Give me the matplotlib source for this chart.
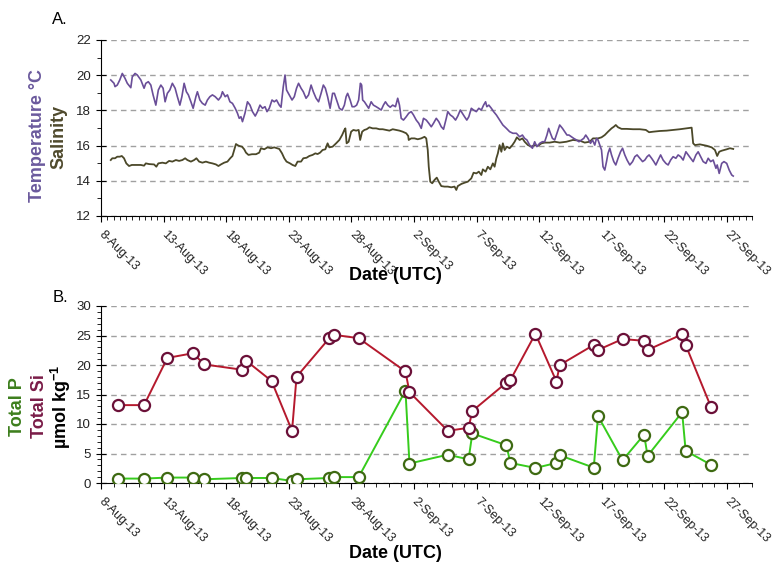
import numpy as np
import pandas as pd
import matplotlib
matplotlib.use('Agg')
import matplotlib.pyplot as plt
import matplotlib.dates as mdates
from matplotlib.ticker import MultipleLocator, FixedLocator

plt.rcParams['font.family'] = ['Liberation Sans', 'DejaVu Sans']
plt.rcParams['mathtext.fontset'] = 'custom'
plt.rcParams['mathtext.bf'] = 'Liberation Sans:bold'
plt.rcParams['mathtext.rm'] = 'Liberation Sans'

t0 = pd.Timestamp('2013-08-08')

# --- mooring record (days since 8-Aug-2013 00:00 UTC) ---
temp_day = [0.78, 1.04, 1.12, 1.3, 1.5, 1.7, 1.92, 2.1, 2.38, 2.5, 2.72, 2.9, 3.18, 3.44, 3.58,
            3.78, 3.98, 4.16, 4.38, 4.58, 4.78, 4.96, 5.12, 5.3, 5.5, 5.7, 5.92, 6.1, 6.3, 6.46,
            6.64, 6.82, 6.98, 7.18, 7.36, 7.58, 7.7, 7.9, 8.1, 8.32, 8.5, 8.7, 8.9, 9.12, 9.38,
            9.58, 9.7, 9.92, 10.1, 10.3, 10.5, 10.72, 10.9, 11.04, 11.18, 11.3, 11.5, 11.7, 11.9,
            12.1, 12.32, 12.5, 12.7, 12.9, 13.1, 13.26, 13.44, 13.66, 13.84, 14.02, 14.24, 14.38,
            14.56, 14.7, 14.82, 15.04, 15.26, 15.44, 15.62, 15.78, 15.98, 16.16, 16.38, 16.58,
            16.78, 16.96, 17.18, 17.38, 17.58, 17.76, 17.92, 18.1, 18.3, 18.5, 18.64, 18.82,
            19.04, 19.26, 19.44, 19.58, 19.7, 19.9, 20.06, 20.24, 20.42, 20.58, 20.72, 20.82,
            20.9, 21.04, 21.22, 21.38, 21.58, 21.76, 21.98, 22.18, 22.38, 22.56, 22.72, 22.9,
            23.1, 23.3, 23.52, 23.7, 23.84, 23.98, 24.16, 24.38, 24.58, 24.78, 24.96, 25.18,
            25.38, 25.58, 25.76, 25.98, 26.18, 26.38, 26.56, 26.78, 26.98, 27.18, 27.36, 27.58,
            27.7, 27.9, 28.1, 28.32, 28.5, 28.7, 28.86, 29.04, 29.22, 29.38, 29.58, 29.76, 29.98,
            30.18, 30.38, 30.56, 30.72, 30.82, 30.98, 31.18, 31.36, 31.58, 31.84, 32.1, 32.38,
            32.64, 32.9, 33.18, 33.44, 33.66, 33.84, 34.02, 34.24, 34.46, 34.64, 34.82, 35.04,
            35.26, 35.44, 35.62, 35.76, 35.9, 36.06, 36.24, 36.42, 36.64, 36.86, 37.04, 37.22,
            37.38, 37.58, 37.76, 37.98, 38.18, 38.38, 38.56, 38.72, 38.9, 39.1, 39.26, 39.44,
            39.58, 39.7, 39.84, 39.98, 40.1, 40.24, 40.38, 40.5, 40.64, 40.78, 40.96, 41.12,
            41.3, 41.5, 41.66, 41.84, 42.02, 42.24, 42.46, 42.64, 42.82, 43.04, 43.26, 43.44,
            43.62, 43.78, 43.98, 44.16, 44.32, 44.5, 44.7, 44.9, 45.12, 45.3, 45.5, 45.7, 45.92,
            46.1, 46.3, 46.5, 46.72, 46.9, 47.1, 47.3, 47.52, 47.7, 47.9, 48.1, 48.32, 48.5,
            48.7, 48.9, 49.12, 49.22, 49.38, 49.58, 49.76, 49.98, 50.18, 50.38, 50.5]
temp_c = [19.73, 19.54, 19.35, 19.44, 19.73, 20.1, 19.82, 19.54, 19.29, 19.91, 20.1, 20.01, 19.73,
          19.26, 19.54, 19.63, 19.44, 18.88, 18.3, 19.16, 19.44, 19.26, 18.49, 18.97, 19.16,
          19.54, 19.26, 18.78, 18.3, 18.78, 19.54, 19.06, 18.88, 18.49, 18.12, 18.78, 19.06,
          18.59, 18.4, 18.3, 18.59, 18.78, 18.88, 18.78, 18.59, 18.78, 19.06, 18.78, 18.88,
          18.49, 18.4, 18.12, 17.84, 17.55, 17.64, 17.36, 17.84, 18.49, 18.3, 17.93, 17.68,
          17.93, 18.3, 18.12, 18.21, 17.93, 18.12, 18.59, 18.49, 18.59, 18.3, 18.18, 19.35,
          20.01, 19.16, 18.88, 18.59, 18.78, 19.26, 19.54, 19.26, 19.06, 18.69, 18.88, 19.44,
          19.06, 18.69, 18.49, 18.97, 19.44, 19.26, 18.78, 18.12, 18.97, 18.97, 18.59, 18.12,
          18.02, 18.3, 18.78, 18.97, 18.59, 18.21, 18.21, 18.3, 18.59, 19.54, 19.44, 18.59,
          18.49, 18.3, 18.12, 18.49, 18.3, 18.21, 18.12, 18.02, 18.3, 18.49, 18.3, 18.18, 18.3,
          18.21, 18.69, 18.3, 17.55, 17.45, 17.64, 17.84, 17.93, 17.74, 17.45, 17.27, 16.98,
          17.55, 17.45, 17.27, 17.07, 17.27, 17.55, 17.36, 17.07, 16.93, 17.55, 17.93, 17.74,
          17.64, 17.45, 17.68, 18.02, 17.84, 17.64, 17.45, 17.64, 18.12, 18.02, 17.93, 18.12,
          18.02, 18.3, 18.49, 18.21, 18.3, 18.12, 17.93, 17.74, 17.45, 17.17, 16.98, 16.79,
          16.7, 16.7, 16.5, 16.6, 16.41, 16.32, 16.03, 15.85, 16.22, 15.94, 16.13, 16.22, 16.22,
          16.6, 16.98, 16.7, 16.41, 16.32, 16.7, 17.17, 16.98, 16.79, 16.6, 16.6, 16.5, 16.41,
          16.32, 16.22, 16.32, 16.41, 16.6, 16.41, 16.13, 16.32, 16.03, 16.41, 16.32, 16.03,
          15.75, 14.8, 14.61, 15.09, 15.56, 15.85, 15.47, 15.09, 14.9, 15.28, 15.65, 15.85,
          15.47, 15.18, 14.9, 15.09, 15.37, 15.47, 15.28, 15.09, 15.18, 15.37, 15.47, 15.28,
          15.09, 14.9, 15.18, 15.47, 15.18, 14.99, 14.9, 15.18, 15.37, 15.28, 15.47, 15.37,
          15.18, 15.65, 15.47, 15.28, 15.09, 15.47, 15.65, 15.37, 15.09, 14.99, 15.28, 15.09,
          15.18, 14.71, 14.9, 14.42, 14.99, 15.09, 14.99, 14.61, 14.33, 14.27]

sal_day = [0.78, 0.9, 1.12, 1.3, 1.5, 1.66, 1.84, 2.02, 2.24, 2.46, 2.78, 3.18, 3.44, 3.58, 3.84,
           4.24, 4.42, 4.58, 4.9, 5.18, 5.44, 5.7, 5.98, 6.24, 6.5, 6.72, 6.9, 7.18, 7.44, 7.62,
           7.84, 8.1, 8.38, 8.64, 8.9, 9.18, 9.38, 9.58, 9.84, 10.1, 10.32, 10.5, 10.64, 10.78,
           10.9, 11.04, 11.26, 11.44, 11.58, 11.78, 12.06, 12.38, 12.64, 12.78, 13.04, 13.3,
           13.58, 13.84, 14.24, 14.46, 14.64, 14.82, 15.1, 15.3, 15.52, 15.7, 15.98, 16.16,
           16.42, 16.64, 16.9, 17.12, 17.3, 17.5, 17.7, 17.92, 18.1, 18.24, 18.5, 18.78, 19.04,
           19.26, 19.44, 19.52, 19.62, 19.78, 19.98, 20.16, 20.38, 20.58, 20.7, 20.86, 21.04,
           21.22, 21.44, 21.7, 21.98, 22.24, 22.5, 22.78, 23.04, 23.3, 23.58, 23.84, 24.1, 24.38,
           24.54, 24.58, 24.78, 25.04, 25.3, 25.58, 25.84, 25.98, 26.1, 26.18, 26.3, 26.46,
           26.64, 26.82, 26.98, 27.18, 27.44, 27.7, 27.98, 28.24, 28.38, 28.5, 28.78, 29.04,
           29.3, 29.58, 29.76, 29.98, 30.18, 30.38, 30.5, 30.72, 30.9, 31.1, 31.3, 31.44, 31.58,
           31.7, 31.84, 31.98, 32.1, 32.24, 32.42, 32.64, 32.86, 33.04, 33.22, 33.44, 33.66,
           33.84, 34.1, 34.38, 34.64, 34.9, 35.18, 35.44, 35.84, 36.24, 36.64, 37.18, 37.7,
           38.24, 38.64, 39.04, 39.3, 39.7, 39.98, 40.24, 40.5, 40.78, 40.96, 41.12, 41.3, 41.58,
           41.98, 42.5, 43.04, 43.52, 43.78, 44.1, 44.64, 45.18, 45.7, 46.24, 46.78, 47.18, 47.3,
           47.44, 47.84, 48.38, 48.78, 49.04, 49.22, 49.38, 49.58, 49.98, 50.24, 50.5]
salinity = [15.18, 15.28, 15.28, 15.37, 15.37, 15.41, 15.28, 14.99, 14.84, 14.9, 14.9, 14.9, 14.86,
            14.99, 14.95, 14.93, 14.8, 14.99, 15.03, 14.99, 15.13, 15.09, 15.18, 15.13, 15.18,
            15.28, 15.18, 15.09, 15.18, 15.28, 15.09, 15.03, 15.09, 15.03, 14.99, 14.93, 14.84,
            14.93, 15.03, 15.09, 15.28, 15.41, 15.75, 16.09, 16.03, 15.98, 15.94, 15.79, 15.6,
            15.47, 15.51, 15.51, 15.6, 15.85, 15.79, 15.9, 15.85, 15.9, 15.81, 15.56, 15.28,
            15.09, 14.99, 14.9, 14.84, 15.09, 15.09, 15.28, 15.31, 15.41, 15.47, 15.56, 15.52,
            15.6, 15.75, 15.79, 16.13, 15.9, 15.94, 16.13, 16.32, 16.6, 16.89, 16.98, 16.13,
            16.22, 16.79, 16.89, 16.85, 16.89, 16.32, 16.79, 16.89, 16.93, 17.04, 16.98, 16.98,
            16.93, 16.93, 16.89, 16.85, 16.93, 16.89, 16.85, 16.79, 16.7, 16.55, 16.32, 16.41,
            16.41, 16.36, 16.41, 16.5, 16.41, 15.75, 14.8, 13.95, 13.86, 14.05, 14.18, 13.95,
            13.7, 13.67, 13.67, 13.63, 13.67, 13.48, 13.7, 13.82, 13.89, 13.95, 14.14, 14.46,
            14.42, 14.52, 14.33, 14.65, 14.52, 14.8, 14.65, 14.99, 14.8, 15.28, 15.56, 16.03,
            15.65, 16.13, 15.75, 15.94, 15.85, 16.03, 16.22, 16.47, 16.32, 16.41, 16.22, 16.03,
            15.94, 16.03, 15.98, 16.13, 16.17, 16.17, 16.22, 16.17, 16.22, 16.32, 16.28, 16.17,
            16.22, 16.41, 16.41, 16.47, 16.6, 16.79, 16.98, 17.07, 17.17, 17.04, 16.95, 16.95,
            16.93, 16.93, 16.89, 16.76, 16.79, 16.83, 16.85, 16.89, 16.93, 16.98, 17.02, 16.13,
            16.03, 16.07, 15.99, 15.9, 15.75, 15.41, 15.65, 15.71, 15.79, 15.85, 15.81]

# --- bottle samples ---
samp_day = [1.39, 3.44, 5.3, 7.36, 8.24, 11.26, 11.58, 13.62, 15.26, 15.62, 18.24, 18.64, 20.58,
            24.32, 24.64, 27.7, 29.36, 29.66, 32.38, 32.7, 34.7, 36.38, 36.64, 39.36, 39.7,
            41.66, 43.38, 43.66, 46.42, 46.7, 48.72]
total_si = [13.2, 13.2, 21.2, 22.0, 20.1, 19.2, 20.75, 17.3, 8.85, 18.0, 24.55, 25.1, 24.55, 18.9,
            15.4, 8.85, 9.35, 12.2, 17.0, 17.45, 25.3, 17.2, 20.0, 23.4, 22.55, 24.4, 24.1,
            22.55, 25.2, 23.4, 12.9]
total_p = [0.75, 0.75, 0.92, 0.92, 0.63, 0.85, 0.85, 0.85, 0.35, 0.63, 0.85, 1.0, 1.0, 15.65, 3.3,
           4.8, 4.0, 8.4, 6.4, 3.4, 2.55, 3.4, 4.7, 2.6, 11.35, 3.85, 8.2, 4.6, 12.0, 5.45, 3.1]


def to_num(days):
    return mdates.date2num(t0.to_pydatetime()) + np.asarray(days, dtype=float)


start = mdates.date2num(t0.to_pydatetime())
major_days = np.arange(0, 51, 5)
major_lbls = [f"{d.day}-{d.strftime('%b-%y')}" for d in (t0 + pd.to_timedelta(major_days, unit='D'))]

W, H = 777, 572
fig = plt.figure(figsize=(W / 100, H / 100), dpi=100)


def px_axes(x0, y0, x1, y1):
    return fig.add_axes([x0 / W, 1 - y1 / H, (x1 - x0) / W, (y1 - y0) / H])


def style_axes(ax, minor_step):
    for s in ['top', 'right']:
        ax.spines[s].set_visible(False)
    ax.set_xlim(start, start + 52)
    ax.xaxis.set_major_locator(FixedLocator(start + major_days))
    ax.xaxis.set_minor_locator(FixedLocator(start + np.arange(0, 52.01, minor_step)))
    ax.set_xticklabels(major_lbls)
    for lbl in ax.get_xticklabels():
        lbl.set(rotation=-45, ha='left', va='center', rotation_mode='anchor')
    ax.tick_params(axis='x', which='major', direction='out', length=4, pad=8,
                   labelsize=9, labelcolor='#222222')
    ax.tick_params(axis='x', which='minor', direction='out', length=3)
    ax.tick_params(axis='y', which='major', direction='inout', length=7, labelsize=9.5,
                   labelcolor='#222222')
    ax.tick_params(axis='y', which='minor', direction='out', length=3)
    ax.yaxis.grid(True, which='major', linestyle=(0, (4, 3)), color='#a0a0a0', lw=1)
    ax.set_axisbelow(True)


# A. temperature & salinity
ax1 = px_axes(101, 40, 752, 216)
ax1.plot(to_num(sal_day), salinity, color='#4b4829', lw=1.3)
ax1.plot(to_num(temp_day), temp_c, color='#6a4e98', lw=1.2)
ax1.set_ylim(12, 22)
ax1.yaxis.set_major_locator(MultipleLocator(2))
ax1.yaxis.set_minor_locator(MultipleLocator(1))
style_axes(ax1, 0.5)

# B. nutrients
ax2 = px_axes(101, 306, 752, 483)
ax2.plot(to_num(samp_day), total_p, color='#36cc1c', lw=1.4, marker='o', ms=8,
         mfc='white', mec='#3e6a12', mew=1.6, zorder=3)
ax2.plot(to_num(samp_day), total_si, color='#b5192d', lw=1.4, marker='o', ms=8,
         mfc='white', mec='#6b1038', mew=1.6, zorder=4)
ax2.set_ylim(0, 30)
ax2.yaxis.set_major_locator(MultipleLocator(5))
ax2.yaxis.set_minor_locator(MultipleLocator(1))
style_axes(ax2, 1)


def ftext(x, y, s, **kw):
    fig.text(x / W, 1 - y / H, s, ha='center', va='center', **kw)


ftext(60, 20, 'A.', fontsize=12)
ftext(60, 297, 'B.', fontsize=12)
ftext(37, 136, 'Temperature °C', rotation=90, fontsize=13, fontweight='bold', color='#6b5a9d')
ftext(59, 137, 'Salinity', rotation=90, fontsize=13, fontweight='bold', color='#4f4a2d')
ftext(18, 407, 'Total P', rotation=90, fontsize=13, fontweight='bold', color='#3d7e1d')
ftext(39, 406, 'Total Si', rotation=90, fontsize=13, fontweight='bold', color='#7a1c48')
ftext(61, 407, r'µmol kg$^{\mathbf{-1}}$', rotation=90, fontsize=13, fontweight='bold', color='black')
ftext(395, 275, 'Date (UTC)', fontsize=13, fontweight='bold')
ftext(395, 554, 'Date (UTC)', fontsize=13, fontweight='bold')

fig.savefig('out.png', dpi=100)
